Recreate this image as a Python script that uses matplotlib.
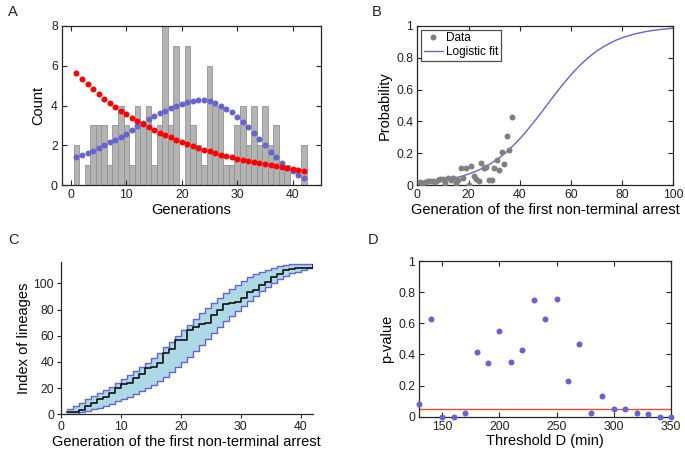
import numpy as np
import matplotlib
matplotlib.use("Agg")
import matplotlib.pyplot as plt

plt.rcParams['font.family'] = ['Liberation Sans', 'DejaVu Sans']

# ---------------- Panel A data ----------------
gens = list(range(1, 43))
hist_counts = [2, 0, 1, 3, 3, 3, 1, 3, 4, 3,
               1, 4, 3, 4, 1, 3, 8, 3, 7, 0,
               7, 3, 2, 1, 6, 4, 4, 1, 1, 3,
               4, 2, 4, 2, 4, 2, 3, 1, 1, 0,
               0, 2]
red_model = [5.62, 5.35, 5.08, 4.83, 4.58, 4.35, 4.13, 3.93, 3.74, 3.56,
             3.39, 3.23, 3.07, 2.92, 2.78, 2.64, 2.51, 2.39, 2.27, 2.16,
             2.06, 1.96, 1.86, 1.77, 1.69, 1.61, 1.53, 1.46, 1.39, 1.33,
             1.27, 1.21, 1.16, 1.11, 1.06, 1.01, 0.97, 0.93, 0.88, 0.82,
             0.76, 0.70]
blue_model = [1.40, 1.52, 1.62, 1.73, 1.85, 1.99, 2.14, 2.27, 2.42, 2.59,
              2.78, 2.95, 3.11, 3.30, 3.45, 3.60, 3.74, 3.86, 3.99, 4.07,
              4.17, 4.22, 4.26, 4.26, 4.21, 4.11, 3.99, 3.84, 3.65, 3.43,
              3.18, 2.91, 2.61, 2.31, 1.99, 1.68, 1.39, 1.12, 0.88, 0.68,
              0.50, 0.36]

# ---------------- Panel B data ----------------
b_gen = list(range(1, 38))
b_prob = [0.017, 0.0, 0.02, 0.027, 0.027, 0.027, 0.022, 0.03, 0.038, 0.035,
          0.015, 0.043, 0.03, 0.046, 0.012, 0.03, 0.105, 0.045, 0.107, 0.0,
          0.12, 0.057, 0.036, 0.023, 0.136, 0.11, 0.115, 0.03, 0.03, 0.105,
          0.157, 0.094, 0.21, 0.13, 0.31, 0.22, 0.43]
fit_x = [0, 2.5, 5, 7.5, 10, 12.5, 15, 17.5, 20, 22.5, 25, 27.5, 30, 32.5, 35,
         37.5, 40, 42.5, 45, 47.5, 50, 52.5, 55, 57.5, 60, 62.5, 65, 67.5, 70,
         72.5, 75, 77.5, 80, 82.5, 85, 87.5, 90, 92.5, 95, 97.5, 100]
fit_y = [0.0132, 0.0163, 0.0201, 0.0247, 0.0304, 0.0374, 0.0459, 0.0562,
         0.0687, 0.0837, 0.1016, 0.1228, 0.148, 0.1767, 0.210, 0.248, 0.290,
         0.336, 0.385, 0.436, 0.489, 0.543, 0.595, 0.645, 0.693, 0.736, 0.775,
         0.810, 0.841, 0.868, 0.890, 0.910, 0.926, 0.939, 0.950, 0.959, 0.967,
         0.973, 0.978, 0.982, 0.986]

# ---------------- Panel C data ----------------
upper_band = [4, 6.5, 9, 11.5, 14, 16, 18.5, 21, 24, 27,
              30, 33, 36, 39.5, 43, 47, 51, 55, 59.5, 64,
              68, 72.5, 77, 81, 85, 89, 92.5, 96, 99, 102,
              104.5, 107, 109, 110.5, 112, 113, 114, 114.5, 115, 115,
              115, 115]
lower_band = [0, 0.5, 1.5, 2.5, 4, 5, 6.5, 8, 10, 11.5,
              13.5, 15.5, 17.5, 20, 22.5, 25.5, 28.5, 32, 36, 40,
              44, 48.5, 53, 57.5, 62, 66.5, 71, 75, 79, 83,
              86.5, 90, 94, 97, 100.5, 103, 105.5, 107.5, 109, 110.5,
              111.5, 112.5]

# ---------------- Panel D data ----------------
thresholds = [130, 140, 150, 160, 170, 180, 190, 200, 210, 220, 230, 240,
              250, 260, 270, 280, 290, 300, 310, 320, 330, 340, 350]
pvalues = [0.079, 0.627, 0.0, 0.0, 0.021, 0.418, 0.347, 0.55, 0.35, 0.428,
           0.75, 0.625, 0.754, 0.231, 0.467, 0.024, 0.135, 0.051, 0.049,
           0.024, 0.017, 0.0, 0.0]
alpha_level = 0.05

W, H = 685, 458
fig = plt.figure(figsize=(W / 100, H / 100), dpi=100)

def px_axes(left, right, top, bottom):
    return fig.add_axes([left / W, (H - bottom) / H, (right - left) / W, (bottom - top) / H])

axis_col = '#262626'
blue = '#6464D2'
tick_fs = 8.8
lab_fs = 10.5
ms = 4.3

def style_box(ax):
    for s in ax.spines.values():
        s.set_color(axis_col)
        s.set_linewidth(0.9)
    ax.tick_params(direction='in', top=True, right=True, length=3.5, width=0.8,
                   colors=axis_col, labelsize=tick_fs, labelcolor='#222222', pad=3)

# Panel A
axA = px_axes(62, 321, 26, 185)
axA.bar(gens, hist_counts, width=1.0, color='#B3B3B3', edgecolor='#939393', linewidth=0.6, zorder=1)
axA.plot(gens, blue_model, 'o', color=blue, markersize=ms, markeredgewidth=0, zorder=3)
axA.plot(gens, red_model, 'o', color='#FF0000', markersize=ms, markeredgewidth=0, zorder=4)
axA.set_xlim(-1.6, 45.1)
axA.set_ylim(0, 8)
axA.set_xticks([0, 10, 20, 30, 40])
axA.set_yticks([0, 2, 4, 6, 8])
axA.set_xlabel('Generations', fontsize=lab_fs, labelpad=1)
axA.set_ylabel('Count', fontsize=lab_fs, labelpad=4)
style_box(axA)

# Panel B
axB = px_axes(417.3, 673.3, 26, 185)
axB.plot(b_gen, b_prob, 'o', color='#808080', markersize=ms, markeredgewidth=0, label='Data', zorder=3)
axB.plot(fit_x, fit_y, '-', color=blue, linewidth=1.0, label='Logistic fit', zorder=2)
axB.set_xlim(0, 100)
axB.set_ylim(0, 1)
axB.set_xticks([0, 20, 40, 60, 80, 100])
axB.set_yticks([0, 0.2, 0.4, 0.6, 0.8, 1])
axB.set_yticklabels(['0', '0.2', '0.4', '0.6', '0.8', '1'])
axB.set_xlabel('Generation of the first non-terminal arrest', fontsize=lab_fs, labelpad=1)
axB.set_ylabel('Probability', fontsize=lab_fs, labelpad=3)
style_box(axB)
leg = axB.legend(loc='upper left', fontsize=8.5, frameon=True, fancybox=False,
                 borderpad=0.25, handlelength=1.6, handletextpad=0.3, labelspacing=0.15,
                 borderaxespad=0.3)
leg.get_frame().set_edgecolor('#222222')
leg.get_frame().set_linewidth(0.9)

# Panel C
axC = px_axes(61, 312.7, 261.7, 414.3)
cum = np.cumsum(hist_counts)
axC.fill_between(gens, lower_band, upper_band, step='post', color='#ADD8E6', linewidth=0, zorder=1)
axC.step(gens, upper_band, where='post', color=blue, linewidth=1.0, zorder=2)
axC.step(gens, lower_band, where='post', color=blue, linewidth=1.0, zorder=2)
axC.step(gens, cum, where='post', color='black', linewidth=1.1, zorder=3)
axC.set_xlim(0, 42)
axC.set_ylim(0, 116.5)
axC.set_xticks([0, 10, 20, 30, 40])
axC.set_yticks([0, 20, 40, 60, 80, 100])
axC.spines['top'].set_visible(False)
axC.spines['right'].set_visible(False)
for s in ['left', 'bottom']:
    axC.spines[s].set_color(axis_col)
    axC.spines[s].set_linewidth(0.9)
axC.tick_params(direction='out', length=3, width=0.8, colors=axis_col,
                labelsize=tick_fs, labelcolor='#222222', pad=2)
axC.set_xlabel('Generation of the first non-terminal arrest', fontsize=lab_fs, labelpad=1)
axC.set_ylabel('Index of lineages', fontsize=lab_fs, labelpad=2)

# Panel D
axD = px_axes(419.3, 671, 261, 416.7)
axD.axhline(alpha_level, color='#E0502A', linewidth=1.0, zorder=2)
axD.plot(thresholds, pvalues, 'o', color=blue, markersize=ms, markeredgewidth=0, zorder=3, clip_on=False)
axD.set_xlim(130, 350)
axD.set_ylim(0, 1)
axD.set_xticks([150, 200, 250, 300, 350])
axD.set_yticks([0, 0.2, 0.4, 0.6, 0.8, 1])
axD.set_yticklabels(['0', '0.2', '0.4', '0.6', '0.8', '1'])
axD.set_xlabel('Threshold D (min)', fontsize=lab_fs, labelpad=1)
axD.set_ylabel('p-value', fontsize=lab_fs, labelpad=3)
style_box(axD)

# Panel letters
for lbl, x, y in [('A', 8, 12), ('B', 372, 12), ('C', 8, 240), ('D', 368, 240)]:
    fig.text(x / W, 1 - y / H, lbl, fontsize=10.5, ha='left', va='center', color='#222222')

fig.savefig('out.png', dpi=100)
